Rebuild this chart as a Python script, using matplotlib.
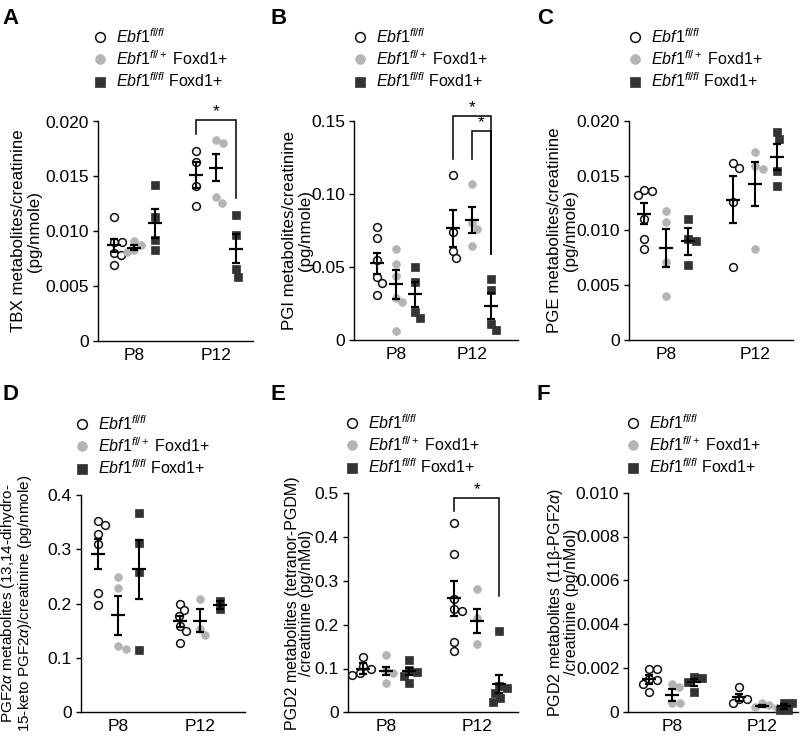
import numpy as np
import matplotlib
matplotlib.use("Agg")
import matplotlib.pyplot as plt
from matplotlib.lines import Line2D

plt.rcParams["font.family"] = ["Liberation Sans", "DejaVu Sans"]
plt.rcParams["mathtext.fontset"] = "custom"
plt.rcParams["mathtext.rm"] = "Liberation Sans"
plt.rcParams["mathtext.it"] = "Liberation Sans:italic"
plt.rcParams["mathtext.bf"] = "Liberation Sans:bold"

# ---- data ----
days = ["P8", "P12"]
group_labels = [r"$\mathit{Ebf1}^{\mathit{fl/fl}}$",
                r"$\mathit{Ebf1}^{\mathit{fl/+}}$ Foxd1+",
                r"$\mathit{Ebf1}^{\mathit{fl/fl}}$ Foxd1+"]

# A: TBX
tbx_p8 = [[0.0113, 0.0090, 0.0090, 0.0080, 0.0078, 0.0069],
          [0.0091, 0.0087, 0.0083, 0.0081],
          [0.01425, 0.0113, 0.0092, 0.0083]]
tbx_p12 = [[0.0173, 0.0163, 0.0141, 0.0123],
           [0.0183, 0.0180, 0.0131, 0.0126],
           [0.0115, 0.0096, 0.0065, 0.0058]]
tbx_mean = [[0.0087, 0.0085, 0.0107], [0.0151, 0.0158, 0.0084]]
tbx_sem = [[0.0006, 0.0002, 0.0013], [0.0012, 0.0012, 0.0013]]
tbx_ticks = [0, 0.005, 0.010, 0.015, 0.020]
tbx_ticklabels = ["0", "0.005", "0.010", "0.015", "0.020"]

# B: PGI
pgi_p8 = [[0.077, 0.070, 0.055, 0.043, 0.039, 0.031],
          [0.062, 0.052, 0.044, 0.029, 0.026, 0.006],
          [0.050, 0.040, 0.019, 0.015]]
pgi_p12 = [[0.113, 0.074, 0.061, 0.056],
           [0.1065, 0.080, 0.076, 0.064],
           [0.042, 0.034, 0.011, 0.007]]
pgi_mean = [[0.0524, 0.038, 0.0312], [0.0764, 0.0818, 0.0233]]
pgi_sem = [[0.007, 0.0098, 0.0088], [0.0128, 0.0089, 0.0087]]
pgi_ticks = [0, 0.05, 0.10, 0.15]
pgi_ticklabels = ["0", "0.05", "0.10", "0.15"]

# C: PGE
pge_p8 = [[0.0137, 0.0136, 0.0132, 0.0110, 0.0092, 0.0083],
          [0.0118, 0.0108, 0.0071, 0.0040],
          [0.0110, 0.0092, 0.0090, 0.0068]]
pge_p12 = [[0.0161, 0.0157, 0.0126, 0.0067],
           [0.0171, 0.0159, 0.0156, 0.0083],
           [0.0190, 0.0183, 0.0154, 0.0140]]
pge_mean = [[0.0115, 0.0084, 0.0090], [0.0128, 0.0142, 0.0167]]
pge_sem = [[0.00096, 0.00176, 0.00124], [0.00216, 0.0020, 0.00118]]
pge_ticks = [0, 0.005, 0.010, 0.015, 0.020]
pge_ticklabels = ["0", "0.005", "0.010", "0.015", "0.020"]

# D: PGF2a
pgf_p8 = [[0.351, 0.345, 0.327, 0.310, 0.219, 0.197],
          [0.248, 0.229, 0.121, 0.116],
          [0.367, 0.312, 0.257, 0.114]]
pgf_p12 = [[0.200, 0.188, 0.177, 0.159, 0.150, 0.128],
           [0.208, 0.154, 0.142],
           [0.205, 0.189]]
pgf_mean = [[0.291, 0.178, 0.263], [0.167, 0.168, 0.197]]
pgf_sem = [[0.027, 0.035, 0.054], [0.010, 0.021, 0.008]]
pgf_ticks = [0, 0.1, 0.2, 0.3, 0.4]
pgf_ticklabels = ["0", "0.1", "0.2", "0.3", "0.4"]

# E: PGD2 (tetranor-PGDM)
pgdm_p8 = [[0.127, 0.105, 0.098, 0.089, 0.086],
           [0.131, 0.096, 0.090, 0.068],
           [0.120, 0.097, 0.093, 0.083, 0.066]]
pgdm_p12 = [[0.433, 0.361, 0.258, 0.235, 0.231, 0.160, 0.140],
            [0.281, 0.215, 0.156],
            [0.186, 0.060, 0.055, 0.045, 0.032, 0.023]]
pgdm_mean = [[0.100, 0.094, 0.094], [0.260, 0.209, 0.065]]
pgdm_sem = [[0.0115, 0.0085, 0.008], [0.040, 0.027, 0.021]]
pgdm_ticks = [0, 0.1, 0.2, 0.3, 0.4, 0.5]
pgdm_ticklabels = ["0", "0.1", "0.2", "0.3", "0.4", "0.5"]

# F: PGD2 (11b-PGF2a)
pgd_p8 = [[0.00193, 0.00193, 0.00150, 0.00145, 0.00126, 0.00091],
          [0.00126, 0.00111, 0.00041, 0.00041],
          [0.00160, 0.00155, 0.00137, 0.00088]]
pgd_p12 = [[0.00111, 0.00060, 0.00058, 0.00040],
           [0.00040, 0.00030, 0.00022, 0.00018],
           [0.00040, 0.00038, 0.00010, 0.00008]]
pgd_mean = [[0.00148, 0.00076, 0.00134], [0.00065, 0.00026, 0.00024]]
pgd_sem = [[0.0002, 0.00028, 0.00016], [0.00017, 0.00004, 0.00012]]
pgd_ticks = [0, 0.002, 0.004, 0.006, 0.008, 0.010]
pgd_ticklabels = ["0", "0.002", "0.004", "0.006", "0.008", "0.010"]

# significance brackets: (x_left, x_right, y_top, y_left_end, y_right_end)
tbx_sig = [(0.75, 1.25, 0.02015, 0.01887, 0.0130)]
pgi_sig = [(0.75, 1.25, 0.153, 0.124, 0.059), (1.0, 1.25, 0.143, 0.1235, 0.059)]
pgdm_sig = [(0.75, 1.25, 0.4886, 0.46, 0.2656)]

# ---- style ----
W, H = 803, 736
marker_style = [dict(marker="o", mfc="white", mec="#111111", mew=1.1),
                dict(marker="o", mfc="#b4b4b4", mec="#b4b4b4", mew=0.5),
                dict(marker="s", mfc="#333333", mec="#333333", mew=0.5)]
offsets = [-0.25, 0.0, 0.25]
TICK_FS = 12.5
LEG_FS = 11.5

panels = [
    dict(letter="A", rect=(97.7, 121.5, 253, 340.7), xlim=(-0.448, 1.453),
         p8=tbx_p8, p12=tbx_p12, mean=tbx_mean, sem=tbx_sem,
         ticks=tbx_ticks, ticklabels=tbx_ticklabels, sig=tbx_sig,
         ylabel="TBX metabolites/creatinine\n(pg/nmole)", ylab_px=42, yfs=12.2, ls=1.05,
         leg=(100, 34), letter_pos=(2, 24)),
    dict(letter="B", rect=(354, 120.7, 518, 340), xlim=(-0.549, 1.609),
         p8=pgi_p8, p12=pgi_p12, mean=pgi_mean, sem=pgi_sem,
         ticks=pgi_ticks, ticklabels=pgi_ticklabels, sig=pgi_sig,
         ylabel="PGI metabolites/creatinine\n(pg/nmole)", ylab_px=313, yfs=12.2, ls=1.05,
         leg=(360, 34), letter_pos=(271, 24)),
    dict(letter="C", rect=(629, 120.7, 793, 340), xlim=(-0.416, 1.427),
         p8=pge_p8, p12=pge_p12, mean=pge_mean, sem=pge_sem,
         ticks=pge_ticks, ticklabels=pge_ticklabels, sig=[],
         ylabel="PGE metabolites/creatinine\n(pg/nmole)", ylab_px=578, yfs=12.2, ls=1.05,
         leg=(635, 34), letter_pos=(537, 24)),
    dict(letter="D", rect=(80.7, 494.7, 245, 712.3), xlim=(-0.46, 1.55),
         p8=pgf_p8, p12=pgf_p12, mean=pgf_mean, sem=pgf_sem,
         ticks=pgf_ticks, ticklabels=pgf_ticklabels, sig=[],
         ylabel="PGF2$\\alpha$ metabolites (13,14-dihydro-\n15-keto PGF2$\\alpha$)/creatinine (pg/nmole)",
         ylab_px=34, yfs=11, ls=0.9, leg=(82, 421), letter_pos=(2, 400)),
    dict(letter="E", rect=(347.7, 493.3, 518, 712.3), xlim=(-0.422, 1.455),
         p8=pgdm_p8, p12=pgdm_p12, mean=pgdm_mean, sem=pgdm_sem,
         ticks=pgdm_ticks, ticklabels=pgdm_ticklabels, sig=pgdm_sig,
         ylabel="PGD2 metabolites (tetranor-PGDM)\n/creatinine (pg/nMol)",
         ylab_px=314, yfs=11.5, ls=0.95, leg=(352, 420), letter_pos=(271, 400)),
    dict(letter="F", rect=(628.3, 492.7, 798, 711.7), xlim=(-0.482, 1.403),
         p8=pgd_p8, p12=pgd_p12, mean=pgd_mean, sem=pgd_sem,
         ticks=pgd_ticks, ticklabels=pgd_ticklabels, sig=[],
         ylabel="PGD2 metabolites (11β-PGF2$\\alpha$)\n/creatinine (pg/nMol)",
         ylab_px=579, yfs=11.5, ls=0.95, leg=(633, 420), letter_pos=(537, 400)),
]


def swarm(vals, ypx, d=7.8):
    # simple beeswarm: horizontal pixel offsets so markers do not overlap
    cand = sorted(np.arange(-16, 16.5, 0.5), key=lambda c: (abs(c), -c))
    placed = []
    out = []
    for v in vals:
        y = v * ypx
        for c in cand:
            if all((c - px) ** 2 + (y - py) ** 2 >= d * d for px, py in placed):
                break
        placed.append((c, y))
        out.append(c)
    return np.array(out)


fig = plt.figure(figsize=(W / 100, H / 100), dpi=100)

for p in panels:
    l, t, r, b = p["rect"]
    ax = fig.add_axes([l / W, 1 - b / H, (r - l) / W, (b - t) / H])
    ymax = p["ticks"][-1]
    ax.set_xlim(*p["xlim"])
    ax.set_ylim(0, ymax)
    xpx = (r - l) / (p["xlim"][1] - p["xlim"][0])
    ypx = (b - t) / ymax

    for di, day_vals in enumerate([p["p8"], p["p12"]]):
        for gi in range(3):
            vals = np.array(day_vals[gi])
            xs = di + offsets[gi] + swarm(vals, ypx) / xpx
            ax.plot(xs, vals, ls="none", ms=5.6, zorder=3, clip_on=False,
                    **marker_style[gi])
            ax.errorbar(di + offsets[gi], p["mean"][di][gi], yerr=p["sem"][di][gi],
                        fmt="_", ms=10, mew=1.6, color="black", ecolor="black",
                        elinewidth=1.5, capsize=2.6, capthick=1.5, zorder=4)

    for x1, x2, ytop, yl, yr in p["sig"]:
        ax.plot([x1, x1, x2, x2], [yl, ytop, ytop, yr], color="black", lw=1.1,
                clip_on=False, solid_joinstyle="miter")
        ax.text((x1 + x2) / 2, ytop + ymax * 0.004, "*", ha="center", va="bottom",
                fontsize=12.5)

    ax.set_yticks(p["ticks"])
    ax.set_yticklabels(p["ticklabels"])
    ax.set_xticks([0, 1])
    ax.set_xticklabels(days)
    ax.tick_params(axis="y", length=3.5, width=1, pad=3, labelsize=TICK_FS)
    ax.tick_params(axis="x", length=0, pad=5, labelsize=TICK_FS)
    for s in ["top", "right"]:
        ax.spines[s].set_visible(False)
    for s in ["left", "bottom"]:
        ax.spines[s].set_linewidth(1.0)

    ax.set_ylabel(p["ylabel"], fontsize=p["yfs"], linespacing=p["ls"])
    ax.yaxis.set_label_coords((p["ylab_px"] - l) / (r - l), 0.5)

    handles = [Line2D([], [], ls="none", ms=7, **marker_style[gi]) for gi in range(3)]
    mx, my = p["leg"]
    ax.legend(handles, group_labels, loc="upper left",
              bbox_to_anchor=((mx - 6) / W, 1 - (my - 7) / H),
              bbox_transform=fig.transFigure, frameon=False, fontsize=LEG_FS,
              handlelength=0.8, handletextpad=0.6, labelspacing=0.22,
              borderpad=0, borderaxespad=0)

    lx, ly = p["letter_pos"]
    fig.text(lx / W, 1 - ly / H, p["letter"], fontsize=16, fontweight="bold",
             ha="left", va="baseline")

fig.savefig("out.png", dpi=100)
